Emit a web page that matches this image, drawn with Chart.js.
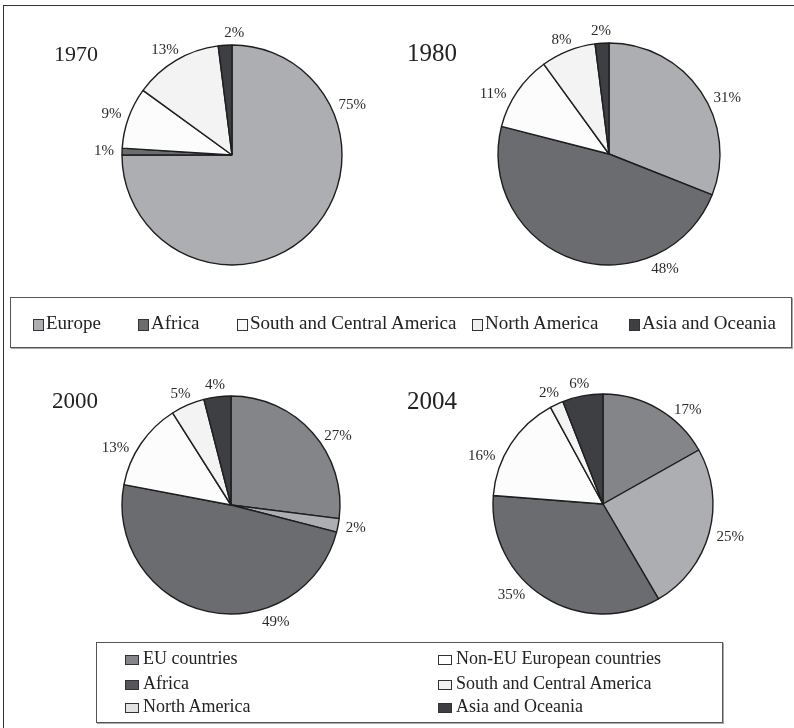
<!DOCTYPE html>
<html>
<head>
<meta charset="utf-8">
<script src="https://cdn.jsdelivr.net/npm/chart.js@4.4.1/dist/chart.umd.min.js"></script>
<style>
  html, body { margin: 0; padding: 0; background: #fff; overflow: hidden; }
  body { width: 794px; height: 728px; position: relative; font-family: "Liberation Serif", "DejaVu Serif", serif; color: #222; }
  .frame { position: absolute; left: 3px; top: 5px; width: 900px; height: 900px; border: 1.5px solid #333; }
  canvas { position: absolute; }
  .year { position: absolute; line-height: 1; color: #222; }
  .legend { position: absolute; border: 1px solid #555; box-shadow: 1px 1px 0 #aaa; background: transparent; }
  .item { position: absolute; white-space: nowrap; line-height: 1; }
  .sw { display: inline-block; border: 1px solid #333; vertical-align: middle; box-sizing: border-box; }
</style>
</head>
<body>
<div class="frame"></div>

<canvas id="pie1970" width="310" height="310"></canvas>
<canvas id="pie1980" width="312" height="312"></canvas>
<canvas id="pie2000" width="308" height="308"></canvas>
<canvas id="pie2004" width="310" height="310"></canvas>

<div class="year" style="left:54px; top:43px; font-size:22px;">1970</div>
<div class="year" style="left:407px; top:40px; font-size:25px;">1980</div>
<div class="year" style="left:52px; top:389px; font-size:23px;">2000</div>
<div class="year" style="left:407px; top:388px; font-size:25px;">2004</div>

<div class="legend" id="legendTop" style="left:10px; top:297px; width:780px; height:49px;"></div>
<div class="legend" id="legendBottom" style="left:96px; top:642px; width:625px; height:79px;"></div>

<script>
// categories and values (percent)
const regionsOld = ['Europe', 'Africa', 'South and Central America', 'North America', 'Asia and Oceania'];
const regionsNew = ['EU countries', 'Non-EU European countries', 'Africa', 'South and Central America', 'North America', 'Asia and Oceania'];

const values1970 = [75, 1, 9, 13, 2];
const values1980 = [31, 48, 11, 8, 2];
const values2000 = [27, 2, 49, 13, 5, 4];
const values2004 = [17, 25, 35, 16, 2, 6];

// slice fills
const coloursOld = ['#adaeb1', '#6b6c70', '#fcfcfc', '#f3f3f3', '#3e3f43'];
const coloursNew = ['#838589', '#adaeb1', '#6b6c70', '#fcfcfc', '#f3f3f3', '#3e3f43'];

// legend swatches as printed
const swatchOld = ['#adaeb1', '#6b6c70', '#fafafa', '#f0f0f0', '#3e3f43'];
const swatchNew = ['#838589', '#ffffff', '#55565a', '#f2f2f2', '#e2e2e2', '#3e3f43'];

// percentage labels outside the slices
const pctLabels = {
  id: 'pctLabels',
  afterDatasetsDraw(chart, args, opts) {
    const ctx = chart.ctx;
    const meta = chart.getDatasetMeta(0);
    const vals = chart.data.datasets[0].data;
    ctx.save();
    ctx.font = '15px "Liberation Serif"';
    ctx.fillStyle = '#2a2a2a';
    ctx.textAlign = 'center';
    ctx.textBaseline = 'middle';
    meta.data.forEach((arc, i) => {
      const p = arc.getProps(['x', 'y', 'startAngle', 'endAngle', 'outerRadius'], true);
      let a = (p.startAngle + p.endAngle) / 2;
      const over = opts.angles || {};
      if (over[i] != null) a = over[i] * Math.PI / 180 - Math.PI / 2;
      const txt = vals[i] + '%';
      const w = ctx.measureText(txt).width;
      // labels below the centre sit a little further out
      const h = Math.sin(a) > 0 ? 16 : 8;
      const r = p.outerRadius + (opts.gap || 4);
      const x = p.x + Math.cos(a) * (r + w / 2);
      const y = p.y + Math.sin(a) * (r + h / 2);
      ctx.fillText(txt, x, y);
    });
    ctx.restore();
  }
};

function makePie(id, labels, data, colours, cx, cy, r, angles) {
  const canvas = document.getElementById(id);
  const pad = (canvas.width - 2 * r) / 2;
  canvas.style.left = (cx - r - pad) + 'px';
  canvas.style.top = (cy - r - pad) + 'px';
  new Chart(canvas, {
    type: 'pie',
    data: {
      labels: labels,
      datasets: [{
        data: data,
        backgroundColor: colours,
        borderColor: '#1e1e1e',
        borderWidth: 1.4,
        radius: r
      }]
    },
    options: {
      responsive: false,
      animation: false,
      layout: { padding: pad },
      events: [],
      plugins: {
        legend: { display: false },
        tooltip: { enabled: false },
        pctLabels: { angles: angles, gap: 8 }
      }
    },
    plugins: [pctLabels]
  });
}

makePie('pie1970', regionsOld, values1970, coloursOld, 232, 155, 110, { 0: 66, 4: 1 });
makePie('pie1980', regionsOld, values1980, coloursOld, 609, 154, 111, { 0: 63, 1: 155, 2: 299 });
makePie('pie2000', regionsNew, values2000, coloursNew, 231, 505, 109, { 0: 55, 2: 160, 3: 298 });
makePie('pie2004', regionsNew, values2004, coloursNew, 603, 504, 110, { 0: 40, 2: 224, 3: 293 });

// legends
const topX = [22, 127, 226, 461, 618];
const legendTop = document.getElementById('legendTop');
regionsOld.forEach((name, i) => {
  const d = document.createElement('div');
  d.className = 'item';
  d.style.left = topX[i] + 'px';
  d.style.top = '15px';
  d.style.fontSize = '19px';
  d.innerHTML = '<span class="sw" style="width:11px;height:12px;margin-right:2px;background:' + swatchOld[i] + '"></span>' + name;
  legendTop.appendChild(d);
});

const bottomCol = [28, 341];
const bottomRow = [6, 31, 54];
const legendBottom = document.getElementById('legendBottom');
regionsNew.forEach((name, i) => {
  const d = document.createElement('div');
  d.className = 'item';
  d.style.left = bottomCol[i % 2] + 'px';
  d.style.top = bottomRow[Math.floor(i / 2)] + 'px';
  d.style.fontSize = '18px';
  d.innerHTML = '<span class="sw" style="width:14px;height:10px;margin-right:4px;background:' + swatchNew[i] + '"></span>' + name;
  legendBottom.appendChild(d);
});
</script>
</body>
</html>
